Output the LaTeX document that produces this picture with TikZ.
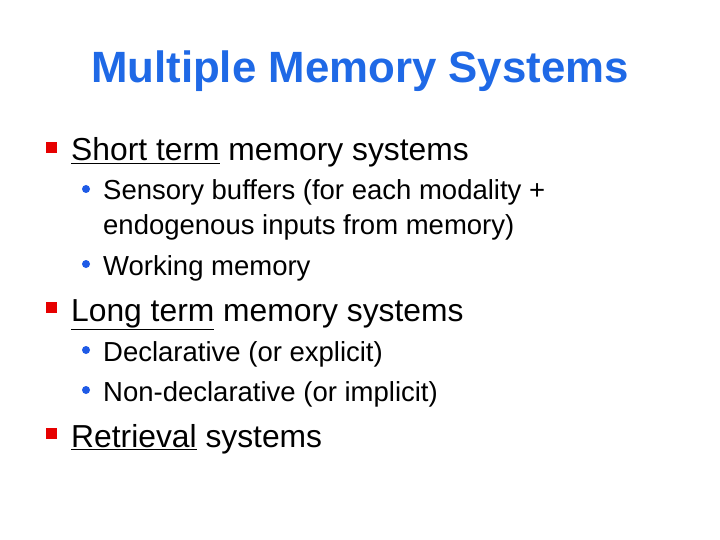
\documentclass[tikz,border=0pt]{standalone}
\usepackage{fontspec}
\setmainfont{Liberation Sans}
\definecolor{ttl}{RGB}{31,105,230}
\definecolor{sq}{RGB}{230,0,0}
\definecolor{bl}{RGB}{30,90,230}
\begin{document}
\begin{tikzpicture}[x=1pt,y=-1pt,
  t1/.style={anchor=base west,inner sep=0pt,font=\fontsize{31.8}{34}\selectfont},
  t2/.style={anchor=base west,inner sep=0pt,font=\fontsize{27.5}{30}\selectfont},
  sqb/.style={fill=sq,draw=none,minimum size=11pt,inner sep=0pt},
  dot/.style={circle,fill=bl,draw=none,minimum size=8pt,inner sep=0pt}]
\useasboundingbox (0,0) rectangle (720,540);
\node[anchor=base,inner sep=0pt,font=\bfseries\fontsize{43.8}{48}\selectfont,text=ttl] (title) at (360,83) {Multiple Memory Systems};
\node[sqb] (s1) at (51.5,147.5) {};
\node[t1] (a) at (71,161) {\underline{Short term} memory systems};
\node[dot] (d1) at (86,189) {};
\node[t2] (a1) at (103,200) {Sensory buffers (for each modality +};
\node[t2] (a2) at (103,235) {endogenous inputs from memory)};
\node[dot] (d2) at (86,264) {};
\node[t2] (a3) at (103,275) {Working memory};
\node[sqb] (s2) at (51.5,307.5) {};
\node[t1] (b) at (71,321) {\underline{Long term} memory systems};
\node[dot] (d3) at (86,350) {};
\node[t2] (b1) at (103,361) {Declarative (or explicit)};
\node[dot] (d4) at (86,390) {};
\node[t2] (b2) at (103,401) {Non-declarative (or implicit)};
\node[sqb] (s3) at (51.5,433.5) {};
\node[t1] (c) at (71,447) {\underline{Retrieval} systems};
\end{tikzpicture}
\end{document}
